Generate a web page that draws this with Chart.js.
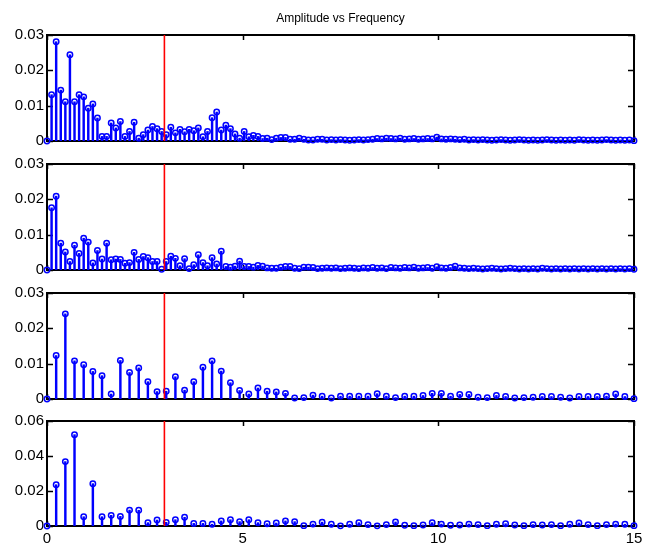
<!DOCTYPE html>
<html><head><meta charset="utf-8">
<script src="https://cdn.jsdelivr.net/npm/chart.js@4.4.1/dist/chart.umd.min.js"></script>
<style>
body{margin:0;background:#fff;width:649px;height:546px;position:relative;overflow:hidden}
canvas{position:absolute;left:0}
</style></head><body>
<canvas id="c1" width="649" height="153" style="top:0px"></canvas>
<canvas id="c2" width="649" height="130" style="top:152px"></canvas>
<canvas id="c3" width="649" height="130" style="top:281px"></canvas>
<canvas id="c4" width="649" height="137" style="top:409px"></canvas>
<script>
// ---- data ----
const chartTitle = 'Amplitude vs Frequency';
const freqMax = 15;
const fineStep = 15 / 128;   // panels 1 & 2: 129 samples
const coarseStep = 15 / 64;  // panels 3 & 4: 65 samples
const markerFreq = 3;        // red reference line
const xTickValues = [0, 5, 10, 15];
const xTickLabels = ['0', '5', '10', '15'];
const yTickValuesA = [0, 0.01, 0.02, 0.03];
const yTickLabelsA = ['0', '0.01', '0.02', '0.03'];
const yTickValuesB = [0, 0.02, 0.04, 0.06];
const yTickLabelsB = ['0', '0.02', '0.04', '0.06'];

const amp1 = [
0, 0.0131, 0.0281, 0.0144, 0.0111, 0.0244, 0.0111, 0.0131, 0.0125, 0.0093,
0.0105, 0.0065, 0.0013, 0.0013, 0.0051, 0.0037, 0.0055, 0.0013, 0.0027, 0.0053,
0.0008, 0.0018, 0.0031, 0.0041, 0.0035, 0.0027, 0.0018, 0.0039, 0.0023, 0.0033,
0.0026, 0.0033, 0.0029, 0.0037, 0.0012, 0.0027, 0.0066, 0.0082, 0.0031, 0.0045,
0.0035, 0.0020, 0.0008, 0.0027, 0.0012, 0.0016, 0.0013, 0.0007, 0.0008, 0.0004,
0.0008, 0.0010, 0.0010, 0.0005, 0.0005, 0.0008, 0.0005, 0.0003, 0.0003, 0.0005,
0.0005, 0.0003,
0.0004, 0.0003, 0.0004, 0.0003, 0.0002, 0.0003, 0.0004, 0.0003, 0.0004, 0.0005,
0.0007, 0.0006, 0.0008, 0.0007, 0.0006, 0.0008, 0.0005, 0.0006, 0.0007, 0.0005,
0.0006, 0.0007, 0.0006, 0.0011, 0.0006, 0.0005, 0.0006, 0.0005, 0.0004, 0.0005,
0.0003, 0.0004, 0.0003, 0.0004, 0.0003, 0.0002, 0.0003, 0.0004, 0.0003, 0.0002,
0.0003, 0.0004, 0.0003, 0.0002, 0.0003, 0.0002, 0.0003, 0.0004, 0.0003, 0.0002,
0.0003, 0.0002, 0.0003, 0.0002, 0.0004, 0.0003, 0.0002, 0.0003, 0.0002, 0.0003,
0.0004, 0.0003, 0.0002, 0.0003, 0.0002, 0.0003, 0.0001
];
const amp2 = [
0, 0.0176, 0.0209, 0.0076, 0.0051, 0.0024, 0.0070, 0.0047, 0.0090, 0.0079,
0.0020, 0.0055, 0.0031, 0.0076, 0.0029, 0.0031, 0.0030, 0.0019, 0.0021, 0.0050,
0.0030, 0.0038, 0.0035, 0.0024, 0.0024, 0.0002, 0.0024, 0.0039, 0.0033, 0.0012,
0.0032, 0.0004, 0.0015, 0.0043, 0.0021, 0.0012, 0.0035, 0.0017, 0.0053, 0.0010,
0.0008, 0.0011, 0.0025, 0.0010, 0.0010, 0.0008, 0.0013, 0.0011, 0.0006, 0.0005,
0.0005, 0.0008, 0.0010, 0.0010, 0.0005, 0.0004, 0.0008, 0.0008, 0.0007, 0.0004,
0.0005, 0.0006,
0.0005, 0.0006, 0.0004, 0.0005, 0.0006, 0.0005, 0.0004, 0.0006, 0.0005, 0.0007,
0.0005, 0.0006, 0.0004, 0.0007, 0.0006, 0.0005, 0.0007, 0.0006, 0.0008, 0.0005,
0.0006, 0.0007, 0.0005, 0.0009, 0.0006, 0.0005, 0.0007, 0.0011, 0.0006, 0.0005,
0.0004, 0.0005, 0.0004, 0.0003, 0.0004, 0.0005, 0.0004, 0.0003, 0.0004, 0.0005,
0.0004, 0.0003, 0.0004, 0.0003, 0.0004, 0.0003, 0.0005, 0.0004, 0.0003, 0.0004,
0.0003, 0.0004, 0.0003, 0.0004, 0.0003, 0.0004, 0.0003, 0.0004, 0.0003, 0.0004,
0.0003, 0.0004, 0.0003, 0.0004, 0.0003, 0.0004, 0.0002
];
const amp3 = [
0, 0.0123, 0.0241, 0.0108, 0.0097, 0.0078, 0.0066, 0.0014, 0.0109, 0.0075,
0.0088, 0.0049, 0.0021, 0.0022, 0.0063, 0.0025, 0.0049, 0.0090, 0.0108, 0.0079,
0.0046, 0.0024, 0.0014, 0.0031, 0.0022, 0.0020, 0.0016, 0.0003, 0.0004, 0.0011,
0.0008, 0.0003, 0.0008, 0.0008, 0.0008, 0.0008, 0.0015, 0.0008, 0.0004, 0.0008,
0.0008, 0.0010, 0.0016, 0.0016, 0.0008, 0.0013, 0.0013, 0.0005, 0.0004, 0.0010,
0.0007, 0.0003, 0.0004, 0.0005, 0.0007, 0.0007, 0.0005, 0.0003, 0.0007, 0.0007,
0.0007, 0.0008, 0.0014, 0.0007, 0.0001
];
const amp4 = [
0, 0.0236, 0.0368, 0.0522, 0.0053, 0.0242, 0.0053, 0.0061, 0.0055, 0.0091,
0.0090, 0.0019, 0.0034, 0.0021, 0.0036, 0.0050, 0.0015, 0.0015, 0.0010, 0.0029,
0.0036, 0.0025, 0.0036, 0.0019, 0.0013, 0.0017, 0.0029, 0.0025, 0.0002, 0.0011,
0.0022, 0.0010, 0.0001, 0.0010, 0.0019, 0.0008, 0.0001, 0.0008, 0.0023, 0.0004,
0.0002, 0.0006, 0.0019, 0.0011, 0.0004, 0.0006, 0.0011, 0.0008, 0.0002, 0.0010,
0.0013, 0.0006, 0.0002, 0.0008, 0.0006, 0.0008, 0.0002, 0.0010, 0.0017, 0.0008,
0.0002, 0.0008, 0.0011, 0.0010, 0.0002
];

// ---- drawing ----
Chart.defaults.font.family = '"Liberation Sans", Arial, Helvetica, sans-serif';
Chart.defaults.color = '#000';

const boxPlugin = {
  id: 'matlabBox',
  beforeDatasetsDraw(chart, args, opts) {
    const {ctx, chartArea: a, scales} = chart;
    const xs = scales.x, ys = scales.y;
    ctx.save();
    ctx.strokeStyle = '#000';
    ctx.lineWidth = 2;
    ctx.strokeRect(a.left, a.top, a.right - a.left, a.bottom - a.top);
    ctx.lineWidth = 1.5;
    ctx.beginPath();
    opts.yTicks.forEach(v => {
      const py = Math.round(ys.getPixelForValue(v)) + 0.5;
      ctx.moveTo(a.left, py); ctx.lineTo(a.left + 6, py);
      ctx.moveTo(a.right, py); ctx.lineTo(a.right - 6, py);
    });
    xTickValues.forEach(v => {
      const px = Math.round(xs.getPixelForValue(v)) + 0.5;
      ctx.moveTo(px, a.top); ctx.lineTo(px, a.top + 5);
      ctx.moveTo(px, a.bottom); ctx.lineTo(px, a.bottom - 5);
    });
    ctx.stroke();
    ctx.restore();
  }
};

function makePanel(id, values, step, yTicks, yLabels, cfg) {
  const pts = values.map((v, i) => ({x: i * step, y: v}));
  const yMax = yTicks[yTicks.length - 1];
  new Chart(document.getElementById(id), {
    type: 'scatter',
    data: {datasets: [
      {type: 'bar', data: pts, backgroundColor: '#0000ff', borderWidth: 0, barThickness: 1.8, order: 3},
      {type: 'scatter', data: pts, showLine: false, pointStyle: 'circle', pointRadius: 2.7,
       pointBorderWidth: 1.5, pointBorderColor: '#0000ff', pointBackgroundColor: 'rgba(0,0,0,0)', clip: false, order: 2},
      {type: 'line', data: [{x: markerFreq, y: 0}, {x: markerFreq, y: yMax}], borderColor: '#ff0000',
       borderWidth: 1.6, pointRadius: 0, fill: false, order: 1}
    ]},
    options: {
      responsive: false, animation: false, devicePixelRatio: 1, events: [],
      layout: {padding: {top: cfg.padTop, bottom: cfg.padBottom, left: 0, right: 15}},
      plugins: {
        legend: {display: false}, tooltip: {enabled: false},
        title: cfg.title ? {display: true, text: cfg.title, fullSize: false, color: '#000',
          font: {size: 12, weight: 'normal'}, padding: {top: 11, bottom: 9.6}} : {display: false},
        matlabBox: {yTicks: yTicks}
      },
      scales: {
        x: {type: 'linear', min: 0, max: freqMax, offset: false, display: cfg.showX,
            grid: {display: false, drawTicks: false}, border: {display: false},
            ticks: {stepSize: 5, padding: 4, maxRotation: 0, font: {size: 15}, color: '#000',
              callback: v => { const k = xTickValues.indexOf(v); return k >= 0 ? xTickLabels[k] : ''; }},
            afterFit: s => { s.height = cfg.showX ? 20 : 0; }},
        y: {type: 'linear', min: 0, max: yMax,
            grid: {display: false, drawTicks: false}, border: {display: false},
            ticks: {stepSize: yTicks[1], padding: 3, font: {size: 15}, color: '#000',
              callback: v => { const k = yTicks.findIndex(t => Math.abs(t - v) < 1e-9); return k >= 0 ? yLabels[k] : ''; }},
            afterFit: s => { s.width = 47; }}
      }
    },
    plugins: [boxPlugin]
  });
}

makePanel('c1', amp1, fineStep, yTickValuesA, yTickLabelsA, {title: chartTitle, padTop: 0, padBottom: 10, showX: false});
makePanel('c2', amp2, fineStep, yTickValuesA, yTickLabelsA, {padTop: 12, padBottom: 10, showX: false});
makePanel('c3', amp3, coarseStep, yTickValuesA, yTickLabelsA, {padTop: 12, padBottom: 10, showX: false});
makePanel('c4', amp4, coarseStep, yTickValuesB, yTickLabelsB, {padTop: 12, padBottom: 0, showX: true});
</script>
</body></html>
